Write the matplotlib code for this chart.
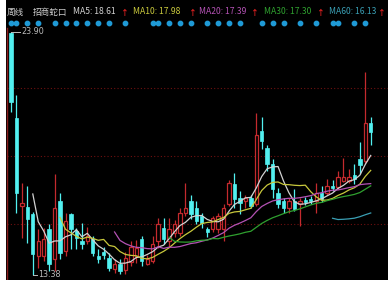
import matplotlib
matplotlib.use("Agg")  # headless
import matplotlib.pyplot as plt
import matplotlib.transforms as mtransforms
from matplotlib.patches import Rectangle
import numpy as np
import pandas as pd

# --- weekly candles ---
opens = [23.87, 20.16, 16.38, 16.33, 16.03, 14.20, 14.20, 15.38, 14.07, 16.60,
         14.42, 16.03, 15.29, 14.86, 14.86, 14.94, 14.20, 14.38, 14.12, 13.64,
         13.86, 13.60, 13.95, 14.20, 14.94, 13.86, 14.00, 14.86, 15.42, 14.86,
         15.20, 15.20, 16.07, 16.60, 16.29, 15.95, 15.35, 15.38, 15.38, 15.35,
         16.46, 17.33, 16.73, 16.60, 16.73, 16.46, 19.60, 18.86, 18.20, 16.94,
         16.60, 16.29, 16.60, 16.46, 16.64, 16.68, 16.60, 16.94, 16.94, 17.25,
         17.20, 17.46, 17.46, 17.70, 18.42, 18.33, 19.94]
highs = [23.90, 21.16, 17.38, 17.25, 16.10, 15.38, 15.42, 15.60, 17.77, 16.94,
         16.07, 16.07, 15.42, 15.64, 15.47, 15.07, 14.51, 14.60, 14.33, 14.07,
         14.07, 14.38, 14.86, 14.90, 15.07, 14.25, 15.07, 15.86, 15.86, 15.86,
         15.75, 16.29, 17.38, 16.85, 16.60, 16.07, 15.45, 15.95, 16.07, 16.46,
         17.50, 17.81, 17.03, 16.85, 16.85, 20.38, 20.20, 19.00, 18.42, 17.16,
         16.73, 16.73, 17.12, 16.70, 16.75, 16.80, 17.38, 17.25, 17.55, 17.50,
         17.90, 18.46, 17.95, 18.20, 19.12, 22.16, 20.20]
lows = [20.42, 16.07, 14.99, 14.75, 13.38, 13.68, 13.99, 13.55, 13.55, 14.07,
        14.20, 14.51, 14.51, 14.51, 14.73, 14.20, 13.90, 14.07, 13.55, 13.47,
        13.42, 13.42, 13.77, 13.90, 13.77, 13.80, 13.90, 14.55, 14.73, 14.60,
        15.00, 15.07, 15.95, 15.80, 15.60, 15.42, 15.00, 15.25, 15.20, 14.86,
        16.35, 16.29, 16.03, 16.29, 16.29, 16.35, 18.85, 17.90, 16.73, 16.29,
        16.07, 16.07, 16.16, 15.51, 16.40, 16.45, 16.07, 16.55, 16.85, 17.03,
        17.10, 17.40, 17.35, 17.30, 17.75, 18.20, 18.99]
closes = [20.87, 16.94, 16.51, 15.81, 14.29, 14.86, 14.94, 13.86, 16.29, 14.33,
          15.73, 15.38, 14.99, 14.73, 15.07, 14.33, 14.07, 14.25, 13.68, 13.86,
          13.55, 14.12, 14.60, 14.55, 13.99, 14.07, 14.73, 15.60, 14.94, 15.38,
          15.60, 16.07, 16.29, 16.03, 15.73, 15.64, 15.22, 15.86, 15.95, 16.29,
          17.38, 16.68, 16.51, 16.73, 16.38, 19.42, 19.16, 18.20, 17.12, 16.46,
          16.29, 16.60, 16.25, 16.60, 16.55, 16.60, 16.94, 16.68, 17.25, 17.16,
          17.60, 17.60, 17.60, 17.55, 18.12, 19.94, 19.55]

ma_periods = [5, 10, 20, 30, 60]
ma_colors = ["#d2d2d2", "#c8c83c", "#b452b4", "#2fa02f", "#3a9fb4"]
header_values = ["18.61", "17.98", "17.39", "17.30", "16.13"]

# weeks that carry an info marker (blue dots on top)
marker_weeks = [0, 1, 3, 5, 8, 10, 12, 14, 16, 18, 21, 26, 27, 29, 31, 33, 36,
                38, 40, 42, 46, 48, 50, 53, 56, 59, 60, 63, 65]

grid_levels = [21.48, 18.53, 15.59]
hi_label, lo_label = "23.90", "13.38"

RED = "#c42a2e"
CYAN = "#52f0f0"
GRID = "#6e1010"

W, H = 388, 282
fig = plt.figure(figsize=(W / 100, H / 100), dpi=100, facecolor="black")
ax = fig.add_axes([7 / W, 2 / H, 381 / W, 252 / H])
ax.set_facecolor("black")
ax.set_xlim(-0.734, 69.17)
ax.set_ylim(13.16, 24.07)
ax.set_xticks([])
ax.set_yticks([])
for s in ["top", "right", "bottom"]:
    ax.spines[s].set_visible(False)
ax.spines["left"].set_color("#8a1c1c")
ax.spines["left"].set_linewidth(1.0)

for g in grid_levels:
    ax.axhline(g, color=GRID, lw=0.8, ls=(0, (1, 2)), zorder=0)

o = np.array(opens)
h = np.array(highs)
l = np.array(lows)
c = np.array(closes)
x = np.arange(len(c))
up = c >= o
bw = 0.62

# down candles: filled cyan
dn = ~up
ax.vlines(x[dn], l[dn], h[dn], color=CYAN, lw=0.9, zorder=3)
ax.bar(x[dn], np.maximum(o[dn] - c[dn], 0.04), bottom=c[dn], width=bw,
       color=CYAN, edgecolor=CYAN, lw=0.5, zorder=4)

# up candles: hollow red
ax.vlines(x[up], c[up], h[up], color=RED, lw=0.9, zorder=3)
ax.vlines(x[up], l[up], o[up], color=RED, lw=0.9, zorder=3)
ax.bar(x[up], np.maximum(c[up] - o[up], 0.04), bottom=o[up], width=bw,
       facecolor="black", edgecolor=RED, lw=0.9, zorder=4)

# moving averages
cs = pd.Series(closes)
for n, col in zip(ma_periods, ma_colors):
    ax.plot(x, cs.rolling(n).mean(), color=col, lw=0.9, zorder=5)

# high / low tags
ih = int(np.argmax(h))
il = int(np.argmin(l))
ax.plot([ih, ih + 1.7], [h[ih], h[ih]], color="#bbbbbb", lw=0.7, zorder=6)
ax.text(ih + 1.9, h[ih], hi_label, color="#bbbbbb", fontsize=5.8,
        va="center", ha="left", zorder=6)
ax.plot([il, il + 0.8], [l[il], l[il]], color="#bbbbbb", lw=0.7, zorder=6,
        clip_on=False)
ax.text(il + 1.0, l[il], lo_label, color="#bbbbbb", fontsize=5.8,
        va="center", ha="left", zorder=6, clip_on=False)

# info markers row
trans = mtransforms.blended_transform_factory(ax.transData, fig.transFigure)
ax.scatter(marker_weeks, [1 - 23 / H] * len(marker_weeks), transform=trans,
           s=10, color="#1f9ad6", clip_on=False, zorder=6)

# header
fam = ["Noto Sans CJK SC", "DejaVu Sans"]
hy = 1 - 12 / H
fs = 6.2
fig.text(7 / W, hy, "周线", color="#cfcfcf", fontsize=fs, family=fam, va="center")
fig.text(33 / W, hy, "招商蛇口", color="#cfcfcf", fontsize=fs, family=fam, va="center")
label_x = [73, 133, 199, 264, 329]
arrow_x = [121, 189, 251, 317, 378]
for n, col, v, lx, axx in zip(ma_periods, ma_colors, header_values, label_x, arrow_x):
    fig.text(lx / W, hy, f"MA{n}: {v}", color=col, fontsize=fs, family=fam,
             va="center")
    fig.text(axx / W, hy, "↑", color="#e02020", fontsize=fs - 0.6, family=fam,
             va="center", fontweight="bold")

# white strip left and bottom of the screenshot
fig.patches.append(Rectangle((0, 0), 6 / W, 1, transform=fig.transFigure,
                             facecolor="white", edgecolor="none", zorder=10))
fig.patches.append(Rectangle((0, 0), 1, 2 / H, transform=fig.transFigure,
                             facecolor="white", edgecolor="none", zorder=10))

fig.savefig("out.png", dpi=100, facecolor="black")
